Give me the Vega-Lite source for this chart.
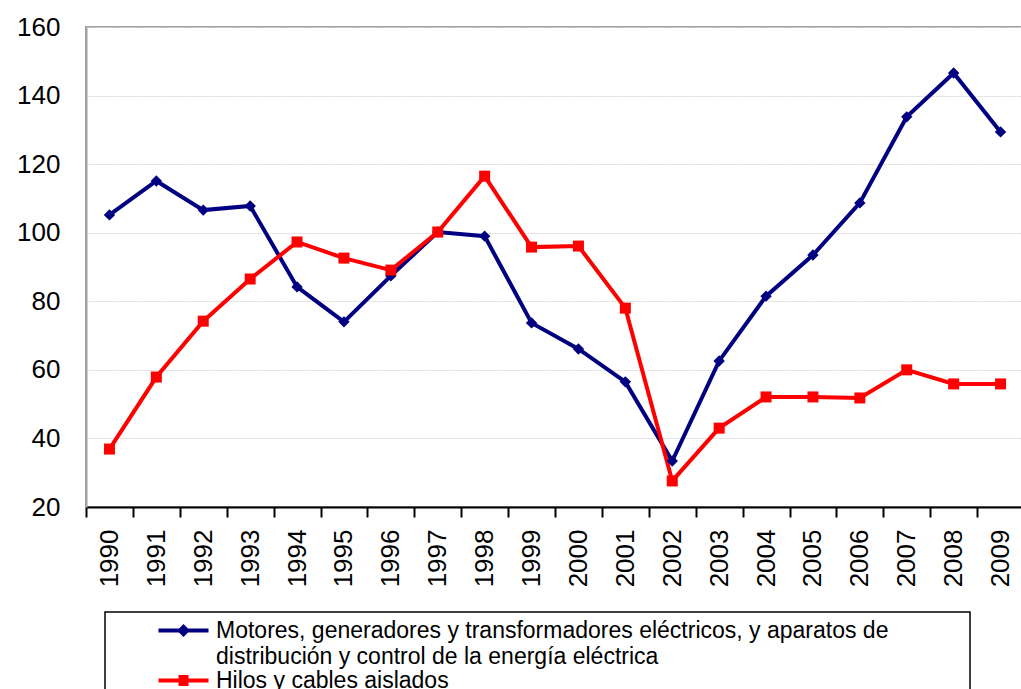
{
  "$schema": "https://vega.github.io/schema/vega-lite/v6.json",
  "autosize": {"type": "none"},
  "padding": {"left": 86, "top": 27, "right": 0, "bottom": 182},
  "width": 938,
  "height": 480,
  "background": "white",
  "config": {
    "font": "Liberation Sans",
    "view": {"stroke": "#a0a0a0", "strokeWidth": 2}
  },
  "data": {
    "values": [
      {"year": "1990", "serie": "Motores", "value": 105.2},
      {"year": "1991", "serie": "Motores", "value": 115.1},
      {"year": "1992", "serie": "Motores", "value": 106.6},
      {"year": "1993", "serie": "Motores", "value": 107.8},
      {"year": "1994", "serie": "Motores", "value": 84.2},
      {"year": "1995", "serie": "Motores", "value": 74.0},
      {"year": "1996", "serie": "Motores", "value": 87.4},
      {"year": "1997", "serie": "Motores", "value": 100.2},
      {"year": "1998", "serie": "Motores", "value": 99.0},
      {"year": "1999", "serie": "Motores", "value": 73.7},
      {"year": "2000", "serie": "Motores", "value": 66.1},
      {"year": "2001", "serie": "Motores", "value": 56.5},
      {"year": "2002", "serie": "Motores", "value": 33.4},
      {"year": "2003", "serie": "Motores", "value": 62.6},
      {"year": "2004", "serie": "Motores", "value": 81.5},
      {"year": "2005", "serie": "Motores", "value": 93.5},
      {"year": "2006", "serie": "Motores", "value": 108.7},
      {"year": "2007", "serie": "Motores", "value": 133.8},
      {"year": "2008", "serie": "Motores", "value": 146.6},
      {"year": "2009", "serie": "Motores", "value": 129.4},
      {"year": "1990", "serie": "Hilos", "value": 36.9},
      {"year": "1991", "serie": "Hilos", "value": 57.9},
      {"year": "1992", "serie": "Hilos", "value": 74.2},
      {"year": "1993", "serie": "Hilos", "value": 86.5},
      {"year": "1994", "serie": "Hilos", "value": 97.3},
      {"year": "1995", "serie": "Hilos", "value": 92.6},
      {"year": "1996", "serie": "Hilos", "value": 89.1},
      {"year": "1997", "serie": "Hilos", "value": 100.2},
      {"year": "1998", "serie": "Hilos", "value": 116.5},
      {"year": "1999", "serie": "Hilos", "value": 95.8},
      {"year": "2000", "serie": "Hilos", "value": 96.1},
      {"year": "2001", "serie": "Hilos", "value": 78.0},
      {"year": "2002", "serie": "Hilos", "value": 27.6},
      {"year": "2003", "serie": "Hilos", "value": 43.0},
      {"year": "2004", "serie": "Hilos", "value": 52.1},
      {"year": "2005", "serie": "Hilos", "value": 52.1},
      {"year": "2006", "serie": "Hilos", "value": 51.8},
      {"year": "2007", "serie": "Hilos", "value": 60.0},
      {"year": "2008", "serie": "Hilos", "value": 55.9},
      {"year": "2009", "serie": "Hilos", "value": 55.9}
    ]
  },
  "encoding": {
    "x": {
      "field": "year", "type": "ordinal",
      "scale": {"paddingInner": 0, "paddingOuter": 0},
      "axis": {
        "title": null, "labelAngle": -90, "labelAlign": "right", "labelBaseline": "middle",
        "labelFontSize": 26, "labelColor": "black", "labelPadding": 12,
        "tickBand": "extent", "tickSize": 10, "tickColor": "black", "tickWidth": 2,
        "domainColor": "black", "domainWidth": 2, "grid": false
      }
    },
    "y": {
      "field": "value", "type": "quantitative",
      "scale": {"domain": [20, 160], "nice": false, "zero": false},
      "axis": {
        "title": null, "values": [20, 40, 60, 80, 100, 120, 140, 160],
        "labelFontSize": 26, "labelColor": "black", "labelPadding": 26,
        "ticks": false, "domainColor": "#a0a0a0", "domainWidth": 2,
        "gridColor": "#d9d9d9", "gridWidth": 1, "gridDash": [2, 1]
      }
    },
    "color": {
      "field": "serie", "type": "nominal",
      "scale": {"domain": ["Motores", "Hilos"], "range": ["#000080", "#ff0000"]},
      "legend": {
        "title": null, "orient": "none", "legendX": 19, "legendY": 585,
        "strokeColor": "black", "fillColor": "white",
        "padding": 7, "symbolOffset": 60, "symbolSize": 400, "labelOffset": 21,
        "labelFontSize": 23, "labelColor": "black", "labelBaseline": "alphabetic",
        "labelLimit": 2000, "rowPadding": 0,
        "labelExpr": "datum.value == 'Hilos' ? 'Hilos y cables aislados' : ['Motores, generadores y transformadores eléctricos, y aparatos de\u2800\u2800 \u2800\u2800', 'distribución y control de la energía eléctrica']",
        "encode": {
          "legend": {"update": {"strokeWidth": {"value": 1.5}}},
          "labels": {"update": {"dy": {"value": 7}, "lineHeight": {"value": 26}, "fill": {"value": "black"}}},
          "symbols": {"update": {
            "shape": {"signal": "datum.value == 'Hilos' ? 'M-2.5,-0.2H-0.5V-0.55H0.5V-0.2H2.5V0.2H0.5V0.55H-0.5V0.2H-2.5Z' : 'M-2.5,-0.2H-0.45L0,-0.65L0.45,-0.2H2.5V0.2H0.45L0,0.65L-0.45,0.2H-2.5Z'"},
            "fill": {"signal": "datum.value == 'Hilos' ? '#ff0000' : '#000080'"},
            "stroke": {"value": "transparent"},
            "strokeWidth": {"value": 0},
            "opacity": {"value": 1},
            "fillOpacity": {"value": 1}
          }}
        }
      }
    }
  },
  "layer": [
    {"mark": {"type": "line", "strokeWidth": 4}},
    {
      "transform": [{"filter": "datum.serie == 'Motores'"}],
      "mark": {"type": "point", "shape": "diamond", "filled": true, "opacity": 1, "size": 130}
    },
    {
      "transform": [{"filter": "datum.serie == 'Hilos'"}],
      "mark": {"type": "point", "shape": "square", "filled": true, "opacity": 1, "size": 121}
    }
  ]
}
